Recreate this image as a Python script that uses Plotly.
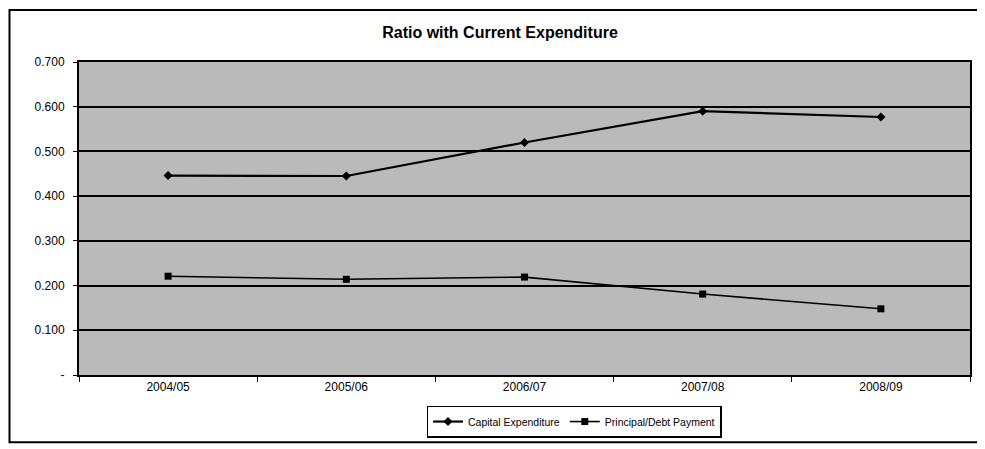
import plotly.graph_objects as go

categories = ["2004/05", "2005/06", "2006/07", "2007/08", "2008/09"]
capital_expenditure = [0.446, 0.445, 0.520, 0.590, 0.577]
principal_debt = [0.221, 0.214, 0.219, 0.181, 0.148]
y_tick_values = [0, 0.1, 0.2, 0.3, 0.4, 0.5, 0.6, 0.7]
y_tick_labels = ["-", "0.100", "0.200", "0.300", "0.400", "0.500", "0.600", "0.700"]

# page body has an 8px margin; figure is sized/placed to compensate
OFF = 8
W, H = 985 - OFF, 449 - OFF
ml, mr, mt, mb = 79 - OFF, 985 - 970, 62 - OFF, 449 - 378

fig = go.Figure()
fig.add_trace(go.Scatter(
    x=categories, y=capital_expenditure, name="Capital Expenditure",
    mode="lines+markers",
    line=dict(color="black", width=2.2),
    marker=dict(symbol="diamond", size=7, color="black"),
))
fig.add_trace(go.Scatter(
    x=categories, y=principal_debt, name="Principal/Debt Payment",
    mode="lines+markers",
    line=dict(color="black", width=1.6),
    marker=dict(symbol="square", size=7, color="black"),
))

pw = W - ml - mr
ph = H - mt - mb
def px_x(p):
    return (p - OFF - ml) / pw
def px_y(p):
    return (H - mb - (p - OFF)) / ph

fig.add_shape(type="rect", xref="paper", yref="paper",
              x0=px_x(9.5), x1=px_x(982), y0=px_y(446), y1=px_y(9.5),
              line=dict(color="black", width=2), fillcolor="rgba(0,0,0,0)", layer="below")

fig.update_layout(
    width=W, height=H,
    margin=dict(l=ml, r=mr, t=mt, b=mb),
    paper_bgcolor="white",
    plot_bgcolor="#bababa",
    font=dict(family="Liberation Sans, Arial, sans-serif", size=11, color="black"),
    title=dict(text="<b>Ratio with Current Expenditure</b>", x=(500 - OFF) / W,
               xanchor="center", y=1 - (32 - OFF) / H, yanchor="middle",
               font=dict(size=16, color="black")),
    showlegend=True,
    legend=dict(orientation="h", x=px_x(574), xanchor="center",
                y=px_y(425), yanchor="middle",
                bordercolor="black", borderwidth=1.5, bgcolor="white",
                font=dict(size=10.5), itemwidth=30),
    xaxis=dict(type="category", range=[-0.5, 4.5], showgrid=False,
               ticks="outside", tickson="boundaries", ticklen=5, tickcolor="black",
               showline=True, linecolor="black", linewidth=2, mirror=True,
               tickfont=dict(size=12)),
    yaxis=dict(range=[0, 0.7], tickvals=y_tick_values, ticktext=y_tick_labels,
               showgrid=True, gridcolor="black", gridwidth=2,
               ticks="outside", ticklen=4, tickcolor="black",
               ticklabelstandoff=6,
               showline=True, linecolor="black", linewidth=2, mirror=True,
               zeroline=False, tickfont=dict(size=12)),
)

fig.write_html("out.html")
